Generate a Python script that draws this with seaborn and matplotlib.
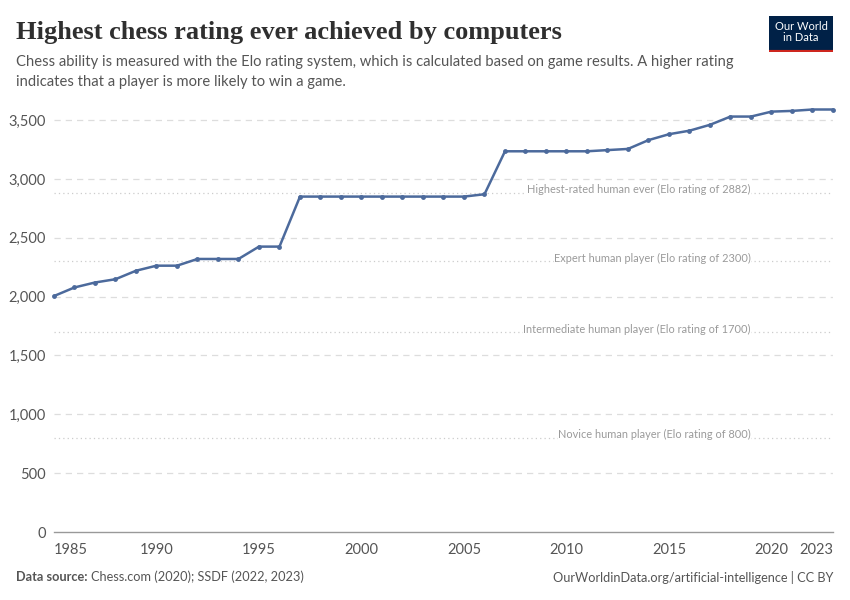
import pandas as pd
import seaborn as sns
import matplotlib.pyplot as plt
from matplotlib.ticker import FuncFormatter

# Datos: rating Elo máximo alcanzado por computadoras
years = list(range(1985, 2024))
rating = [2005, 2078, 2120, 2148, 2220, 2263, 2263, 2320, 2320, 2320,
          2425, 2425, 2850, 2850, 2850, 2850, 2850, 2850, 2850, 2850,
          2850, 2870, 3235, 3235, 3235, 3235, 3235, 3245, 3255, 3330,
          3380, 3410, 3460, 3530, 3530, 3572, 3578, 3590, 3590]

ref_values = [2882, 2300, 1700, 800]
ref_labels = ['Highest-rated human ever (Elo rating of 2882)',
              'Expert human player (Elo rating of 2300)',
              'Intermediate human player (Elo rating of 1700)',
              'Novice human player (Elo rating of 800)']

x_ticks = [1985, 1990, 1995, 2000, 2005, 2010, 2015, 2020, 2023]
y_ticks = [0, 500, 1000, 1500, 2000, 2500, 3000, 3500]

df = pd.DataFrame({'Year': years, 'Rating': rating})

sns.set_theme(style='white')
plt.rcParams['font.family'] = ['Lato', 'DejaVu Sans']

fig = plt.figure(figsize=(8.5, 6), dpi=100)
ax = fig.add_axes([0.0635, 0.1133, 0.9165, 0.7042])

# Rejilla horizontal
for v in y_ticks[1:]:
    ax.axhline(v, color='#dddddd', lw=0.9, ls=(0, (5, 4)), zorder=0)

# Líneas de referencia humanas
for v, lab in zip(ref_values, ref_labels):
    ax.axhline(v, color='#cccccc', lw=0.9, ls=(0, (1, 2.5)), zorder=0)
    ax.text(2019.0, v + 25, lab, ha='right', va='center', fontsize=7.9,
            color='#9a9a9a',
            bbox=dict(facecolor='white', edgecolor='none', pad=0.3), zorder=1)

sns.lineplot(data=df, x='Year', y='Rating', ax=ax, color='#4c6a9c', lw=1.8,
             marker='o', markersize=3.5, markeredgewidth=0, zorder=3,
             clip_on=False)

ax.set_xlim(1985, 2023)
ax.set_ylim(0, 3590)
ax.set_xticks(x_ticks)
ax.set_yticks(y_ticks)
ax.yaxis.set_major_formatter(FuncFormatter(lambda v, p: f'{int(v):,}'))
ax.set_xlabel('')
ax.set_ylabel('')

for s in ['top', 'right', 'left']:
    ax.spines[s].set_visible(False)
ax.spines['bottom'].set_color('#999999')
ax.spines['bottom'].set_linewidth(1)
ax.tick_params(axis='x', direction='out', length=5, width=1, color='#999999',
               labelsize=10.5, labelcolor='#555555', pad=3)
ax.tick_params(axis='y', length=0, labelsize=10.5, labelcolor='#555555', pad=6)
xl = ax.get_xticklabels()
xl[0].set_ha('left')
xl[-1].set_ha('right')

# Títulos
fig.text(0.019, 0.945, 'Highest chess rating ever achieved by computers',
         fontsize=19, fontweight='bold', color='#2f2f2f',
         family=['Liberation Serif', 'DejaVu Serif'], va='center')
fig.text(0.019, 0.897, 'Chess ability is measured with the Elo rating system, which is calculated based on game results. A higher rating',
         fontsize=10.6, color='#555555', va='center')
fig.text(0.019, 0.863, 'indicates that a player is more likely to win a game.',
         fontsize=10.6, color='#555555', va='center')

# Logo
logo = fig.add_axes([0.905, 0.913, 0.075, 0.06])
logo.set_facecolor('#002147')
logo.set_xticks([])
logo.set_yticks([])
for s in logo.spines.values():
    s.set_visible(False)
logo.axhline(0.0, color='#ce261e', lw=3)
logo.text(0.5, 0.55, 'Our World\nin Data', ha='center', va='center',
          fontsize=8, color='white', linespacing=1.0, transform=logo.transAxes)

# Pie
fig.text(0.019, 0.038, 'Data source: ', fontsize=9.2, color='#555555',
         fontweight='bold', va='center')
fig.text(0.107, 0.038, 'Chess.com (2020); SSDF (2022, 2023)', fontsize=9.2,
         color='#555555', va='center')
fig.text(0.981, 0.038, 'OurWorldinData.org/artificial-intelligence | CC BY',
         fontsize=9.2, color='#555555', va='center', ha='right')

fig.savefig('out.png', dpi=100)
